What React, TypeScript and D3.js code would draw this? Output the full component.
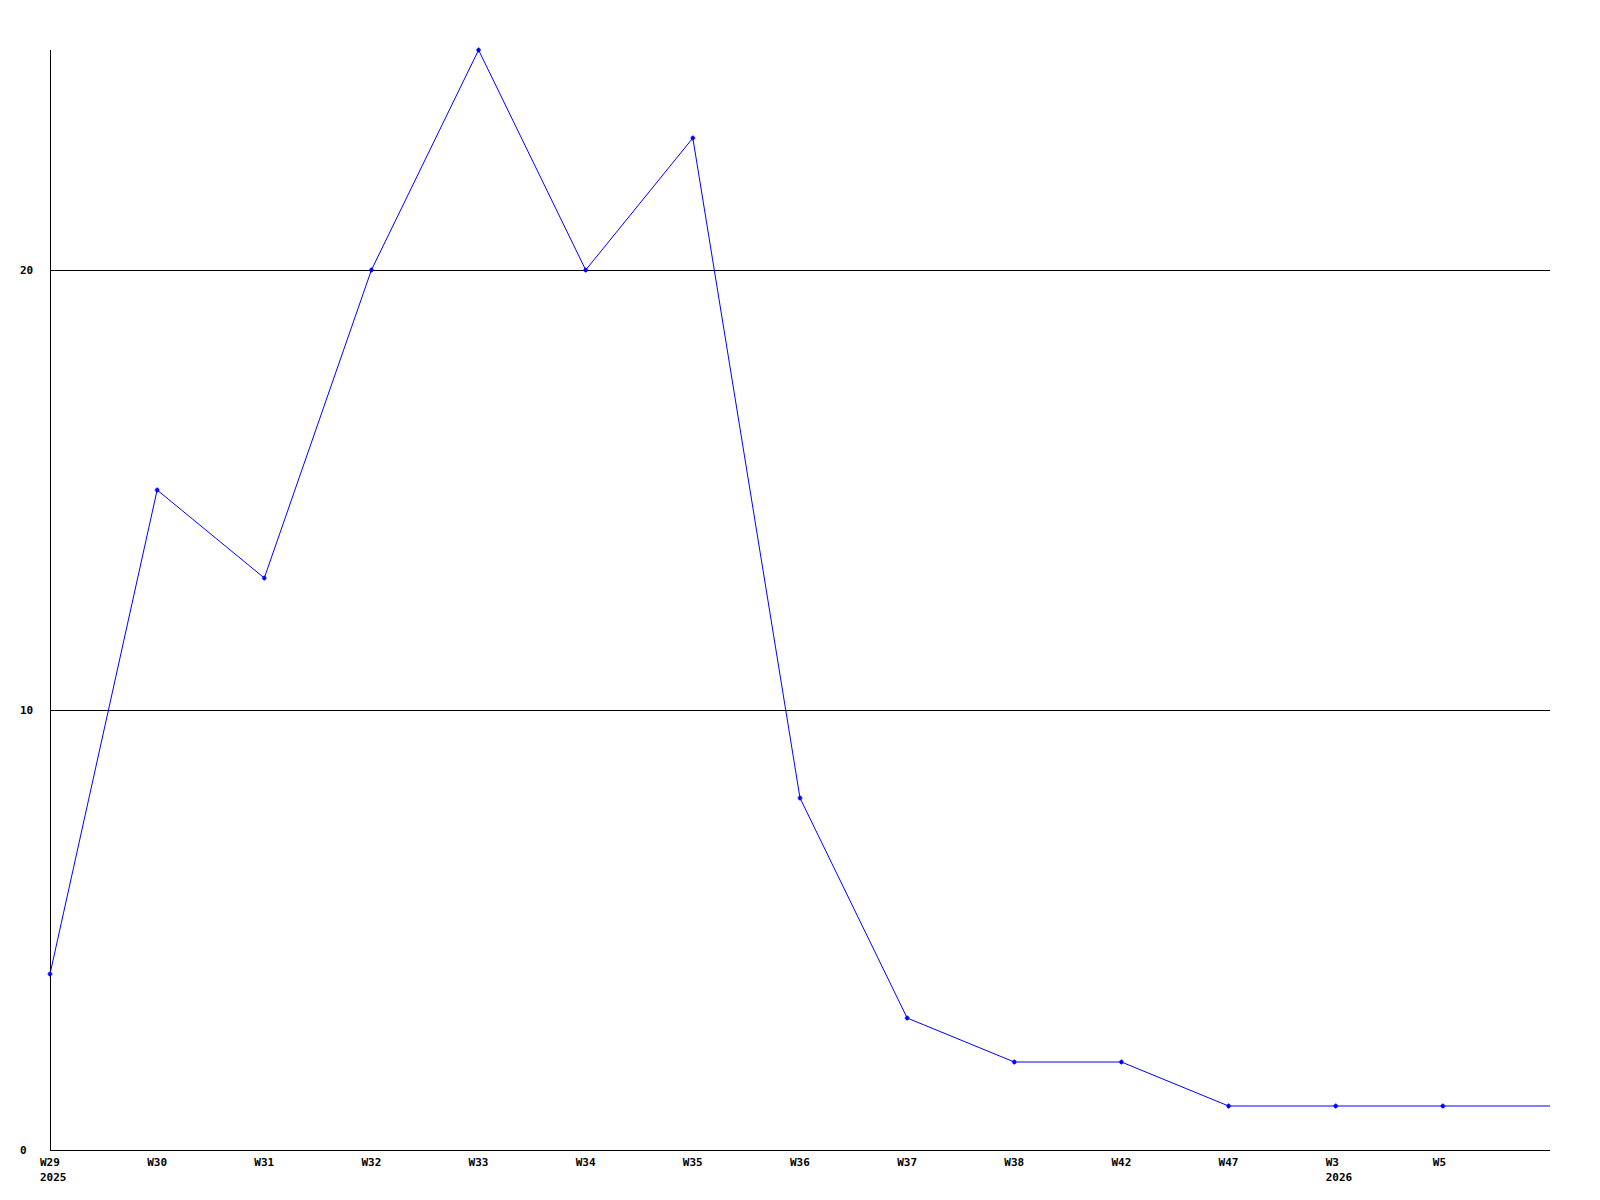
import React from "react";
import * as d3 from "d3";

const weeks = ["W29", "W30", "W31", "W32", "W33", "W34", "W35", "W36", "W37", "W38", "W42", "W47", "W3", "W5", ""];
const years = ["2025", "", "", "", "", "", "", "", "", "", "", "", "2026", "", ""];
const counts = [4, 15, 13, 20, 25, 20, 23, 8, 3, 2, 2, 1, 1, 1, 1];
const yTicks = [0, 10, 20];

const W = 1600;
const H = 1200;
const left = 50;
const right = 1550;
const top = 50;
const bottom = 1150;

export default function App() {
  const x = d3.scaleLinear().domain([0, weeks.length - 1]).range([left, right]);
  const y = d3.scaleLinear().domain([0, 25]).range([bottom, top]);
  const line = d3.line<number>().x((_, i) => x(i)).y((d) => y(d));
  const font = "'DejaVu Sans Mono', monospace";

  return (
    <svg width={W} height={H} style={{ position: "absolute", left: 0, top: 0, background: "#fff" }}>
      <rect x={0} y={0} width={W} height={H} fill="#fff" />
      {yTicks.filter((t) => t > 0).map((t) => (
        <line key={"g" + t} x1={left} x2={right} y1={y(t) + 0.5} y2={y(t) + 0.5} stroke="#000" strokeWidth={1} />
      ))}
      <line x1={left + 0.5} x2={left + 0.5} y1={top} y2={bottom + 0.5} stroke="#000" strokeWidth={1} />
      <line x1={left} x2={right} y1={bottom + 0.5} y2={bottom + 0.5} stroke="#000" strokeWidth={1} />
      {yTicks.map((t) => (
        <text key={"y" + t} x={20} y={y(t)} dy="0.35em" fontFamily={font} fontWeight="bold" fontSize={11} fill="#000">
          {t}
        </text>
      ))}
      {weeks.map((w, i) => (
        <g key={"x" + i}>
          <text x={x(i) - 10} y={1166} fontFamily={font} fontWeight="bold" fontSize={11} fill="#000">{w}</text>
          {years[i] && (
            <text x={x(i) - 10} y={1181} fontFamily={font} fontWeight="bold" fontSize={11} fill="#000">{years[i]}</text>
          )}
        </g>
      ))}
      <path d={line(counts) || ""} fill="none" stroke="#0000ff" strokeWidth={1} />
      {counts.slice(0, counts.length - 1).map((c, i) => {
        const cx = x(i);
        const cy = y(c);
        return (
          <path
            key={"m" + i}
            d={`M${cx - 2.5},${cy}L${cx + 2.5},${cy}M${cx},${cy - 2.5}L${cx},${cy + 2.5}M${cx - 1.5},${cy - 1.5}L${cx + 1.5},${cy + 1.5}M${cx - 1.5},${cy + 1.5}L${cx + 1.5},${cy - 1.5}`}
            fill="none"
            stroke="#0000ff"
            strokeWidth={1.2}
          />
        );
      })}
    </svg>
  );
}
